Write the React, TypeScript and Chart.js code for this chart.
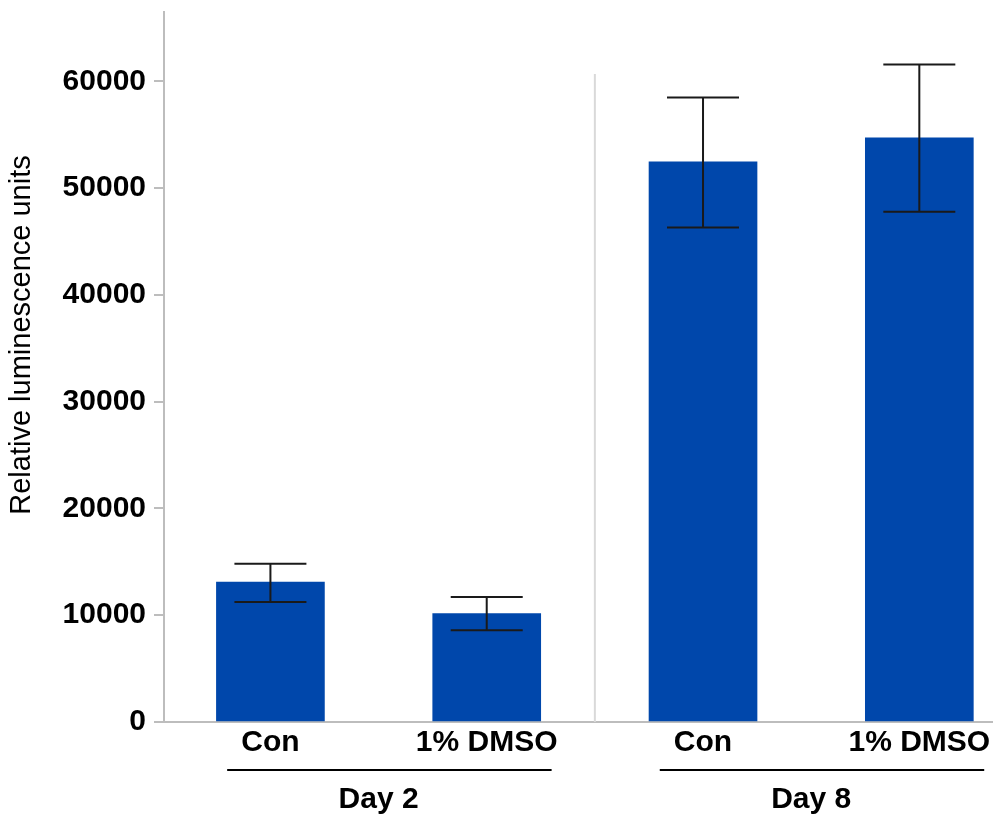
import React, { useEffect, useRef } from "react";
import { Chart, registerables } from "chart.js";

Chart.register(...registerables);

const categories = ["Con", "1% DMSO", "Con", "1% DMSO"];
const means = [13110, 10150, 52460, 54720];
const errUpper = [14820, 11700, 58490, 61580];
const errLower = [11240, 8590, 46320, 47780];
const groupLabels = ["Day 2", "Day 8"];
const groupMembers = [[0, 1], [2, 3]];
const yTicks = [0, 10000, 20000, 30000, 40000, 50000, 60000];
const yTitle = "Relative luminescence units";

const FONT = "Arial, 'Liberation Sans', sans-serif";
const BAR = "#0047AB";
const AXIS = "#bdbdbd";

const extrasPlugin = {
  id: "extras",
  afterDatasetsDraw(chart: any) {
    const ctx = chart.ctx;
    const xs = chart.scales.x;
    const ys = chart.scales.y;
    const area = chart.chartArea;
    ctx.save();
    // divider between groups
    const dx = xs.getPixelForValue(1.5);
    ctx.strokeStyle = "#d9d9d9";
    ctx.lineWidth = 2;
    ctx.beginPath();
    ctx.moveTo(dx, ys.getPixelForValue(60700));
    ctx.lineTo(dx, area.bottom);
    ctx.stroke();
    // error bars
    ctx.strokeStyle = "#1a1a1a";
    ctx.lineWidth = 2;
    for (let i = 0; i < means.length; i++) {
      const x = xs.getPixelForValue(i);
      const yh = ys.getPixelForValue(errUpper[i]);
      const yl = ys.getPixelForValue(errLower[i]);
      const cw = 36;
      ctx.beginPath();
      ctx.moveTo(x, yh);
      ctx.lineTo(x, yl);
      ctx.moveTo(x - cw, yh);
      ctx.lineTo(x + cw, yh);
      ctx.moveTo(x - cw, yl);
      ctx.lineTo(x + cw, yl);
      ctx.stroke();
    }
    ctx.restore();
  },
  afterDraw(chart: any) {
    const ctx = chart.ctx;
    const xs = chart.scales.x;
    const area = chart.chartArea;
    ctx.save();
    // group lines and labels
    ctx.strokeStyle = "#000";
    ctx.lineWidth = 2;
    ctx.fillStyle = "#000";
    ctx.font = `bold 30px ${FONT}`;
    ctx.textAlign = "center";
    ctx.textBaseline = "alphabetic";
    groupLabels.forEach((lab, g) => {
      const m = groupMembers[g];
      const x0 = xs.getPixelForValue(m[0] - 0.2);
      const x1 = xs.getPixelForValue(m[m.length - 1] + 0.3);
      const y = area.bottom + 48;
      ctx.beginPath();
      ctx.moveTo(x0, y);
      ctx.lineTo(x1, y);
      ctx.stroke();
      const cx = (xs.getPixelForValue(m[0]) + xs.getPixelForValue(m[m.length - 1])) / 2;
      ctx.fillText(lab, cx, area.bottom + 86);
    });
    // y-axis title
    ctx.font = `29px ${FONT}`;
    ctx.textBaseline = "middle";
    ctx.translate(22, 335);
    ctx.rotate(-Math.PI / 2);
    ctx.fillText(yTitle, 0, 0);
    ctx.restore();
  },
};

export default function App() {
  const ref = useRef<HTMLCanvasElement>(null);
  useEffect(() => {
    if (!ref.current) return;
    const chart = new Chart(ref.current, {
      type: "bar",
      data: {
        datasets: [
          {
            data: means.map((v, i) => ({ x: i, y: v })),
            backgroundColor: BAR,
            borderWidth: 0,
            barThickness: 108,
          },
        ],
      },
      options: {
        animation: false,
        responsive: false,
        maintainAspectRatio: false,
        layout: { padding: { top: 12, right: 5, left: 0, bottom: 0 } },
        plugins: { legend: { display: false }, tooltip: { enabled: false } },
        scales: {
          x: {
            type: "linear",
            offset: false,
            min: -0.492,
            max: 3.336,
            grid: { display: false, drawTicks: false, offset: false },
            border: { display: true, color: AXIS, width: 2 },
            afterBuildTicks: (s: any) => {
              s.ticks = categories.map((_, i) => ({ value: i }));
            },
            afterFit: (s: any) => {
              s.height = 92;
              s.paddingLeft = 0;
              s.paddingRight = 0;
            },
            ticks: {
              padding: 3,
              color: "#000",
              font: { family: FONT, size: 30, weight: "bold" },
              callback: (v: any) => categories[v] ?? "",
              maxRotation: 0,
              autoSkip: false,
            },
          },
          y: {
            min: 0,
            max: 66500,
            afterBuildTicks: (s: any) => {
              s.ticks = yTicks.map((v) => ({ value: v }));
            },
            afterFit: (s: any) => {
              s.width = 164;
              s.paddingTop = 0;
              s.paddingBottom = 0;
            },
            grid: { drawOnChartArea: false, drawTicks: true, tickLength: 10, color: AXIS, lineWidth: 2 },
            border: { display: true, color: AXIS, width: 2 },
            ticks: {
              padding: 8,
              color: "#000",
              font: { family: FONT, size: 30, weight: "bold" },
              callback: (v: any) => String(v),
            },
          },
        },
      },
      plugins: [extrasPlugin],
    });
    return () => chart.destroy();
  }, []);
  return (
    <div style={{ position: "fixed", left: 0, top: 0, width: 997, height: 814, background: "#fff" }}>
      <canvas ref={ref} width={997} height={814} style={{ display: "block" }} />
    </div>
  );
}
